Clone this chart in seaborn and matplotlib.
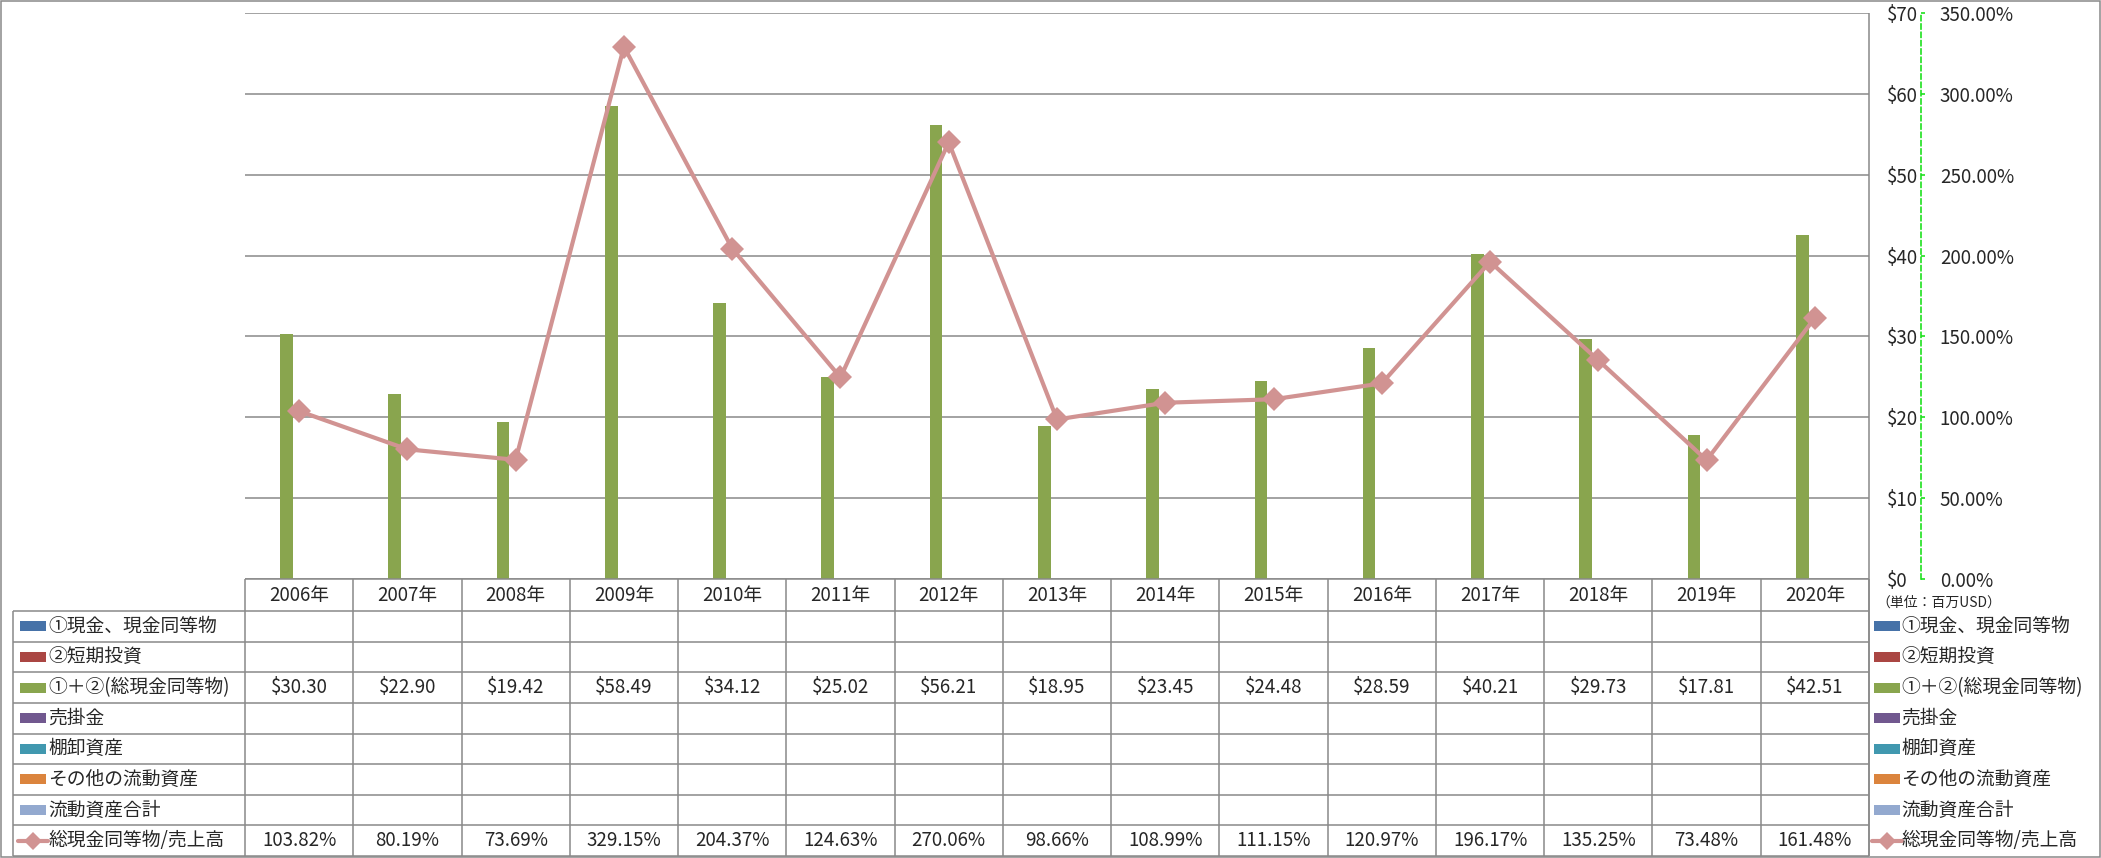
import numpy as np
import pandas as pd
import matplotlib
matplotlib.use("Agg")
import matplotlib.pyplot as plt
import seaborn as sns
from matplotlib.lines import Line2D
from matplotlib.patches import Rectangle

# ---------------- data ----------------
years = ["2006年", "2007年", "2008年", "2009年", "2010年", "2011年", "2012年", "2013年",
         "2014年", "2015年", "2016年", "2017年", "2018年", "2019年", "2020年"]
cash_total = [30.30, 22.90, 19.42, 58.49, 34.12, 25.02, 56.21, 18.95,
              23.45, 24.48, 28.59, 40.21, 29.73, 17.81, 42.51]
ratio_pct = [103.82, 80.19, 73.69, 329.15, 204.37, 124.63, 270.06, 98.66,
             108.99, 111.15, 120.97, 196.17, 135.25, 73.48, 161.48]
series_names = ["①現金、現金同等物", "②短期投資", "①＋②(総現金同等物)", "売掛金",
                "棚卸資産", "その他の流動資産", "流動資産合計"]
line_name = "総現金同等物/売上高"
dollar_ticks = [0, 10, 20, 30, 40, 50, 60, 70]
pct_ticks = [0, 50, 100, 150, 200, 250, 300, 350]
unit_label = "（単位：百万USD）"

# ---------------- style ----------------
bar_colors = ["#4672A8", "#AA4643", "#89A54E", "#71588F", "#4198AF", "#DB843D", "#93A9CF"]
line_color = "#D19392"
grid_color = "#898989"
axis_green = "#1EE01E"

sns.set_theme(style="white")
plt.rcParams["font.family"] = ["Noto Sans CJK JP", "DejaVu Sans"]
plt.rcParams["ytick.major.pad"] = 0
FS = 13.5

W, H = 2101, 858
PL, PR, PT, PB = 245, 1869, 13, 579
TB_LEFT = 13
HDR_BOT = 611
TB_BOT = 856
n_rows = len(series_names) + 1
ROW_H = (TB_BOT - HDR_BOT) / n_rows

fig = plt.figure(figsize=(W / 100, H / 100), dpi=100)
fig.patch.set_facecolor("white")
ax = fig.add_axes([PL / W, (H - PB) / H, (PR - PL) / W, (PB - PT) / H])

# long-form data for bars (only the combined cash series has values)
rows = []
for s in series_names:
    for y, v in zip(years, cash_total):
        rows.append({"year": y, "series": s,
                     "value": v if s == series_names[2] else np.nan})
df = pd.DataFrame(rows)

sns.barplot(data=df, x="year", y="value", hue="series", order=years,
            hue_order=series_names, palette=dict(zip(series_names, bar_colors)),
            width=0.82, dodge=True, saturation=1, errorbar=None, legend=False,
            linewidth=0, ax=ax)

# secondary axis: ratio line
ax2 = ax.twinx()
sns.lineplot(x=np.arange(len(years)), y=ratio_pct, ax=ax2, color=line_color,
             lw=3, marker="D", markersize=12, markeredgewidth=0, legend=False)

ax.set_ylim(0, 70)
ax.set_xlim(-0.5, len(years) - 0.5)
ax.set_yticks(dollar_ticks)
ax.set_yticklabels([f"${v}" for v in dollar_ticks])
ax.yaxis.set_ticks_position("right")
ax.spines["right"].set_position(("axes", (1887 - PL) / (PR - PL)))
ax.tick_params(axis="y", left=False, labelleft=False, right=False, labelright=True,
               length=0, pad=0, labelsize=FS)
ax.tick_params(axis="x", length=0, labelbottom=False)
ax.grid(axis="y", color=grid_color, lw=1.1)
ax.grid(axis="x", visible=False)
ax.set_axisbelow(True)
for sp in ax.spines.values():
    sp.set_visible(False)
ax.set_xlabel("")
ax.set_ylabel("")

ax2.set_ylim(0, 350)
ax2.set_xlim(-0.5, len(years) - 0.5)
ax2.set_yticks(pct_ticks)
ax2.set_yticklabels([f"{v:.2f}%" for v in pct_ticks])
for k, sp in ax2.spines.items():
    sp.set_visible(k == "right")
ax2.spines["right"].set_position(("axes", (1921 - PL) / (PR - PL)))
ax2.spines["right"].set_color(axis_green)
ax2.spines["right"].set_linestyle((0, (3, 2)))
ax2.spines["right"].set_linewidth(1.2)
ax2.tick_params(axis="y", color=axis_green, length=3, width=1.2, pad=10.5,
                labelsize=FS, direction="out")
ax2.tick_params(axis="x", length=0, labelbottom=False)
ax2.grid(False)
ax2.set_ylabel("")
ax2.set_xlabel("")

# ---------------- data table overlay ----------------
ov = fig.add_axes([0, 0, 1, 1])
ov.set_xlim(0, W)
ov.set_ylim(H, 0)
ov.axis("off")

n = len(years)
cw = (PR - PL) / n
lkw = dict(color=grid_color, lw=1.1, solid_capstyle="butt")
ov.plot([PL, PR], [PB, PB], **lkw)
for k in range(n_rows + 1):
    yy = HDR_BOT + k * ROW_H
    ov.plot([TB_LEFT, PR], [yy, yy], **lkw)
for i in range(n + 1):
    xx = PL + i * cw
    ov.plot([xx, xx], [PB, TB_BOT], **lkw)
ov.plot([TB_LEFT, TB_LEFT], [HDR_BOT, TB_BOT], **lkw)
ov.plot([PR, PR], [PT, TB_BOT], **lkw)
ov.add_patch(Rectangle((0.5, 0.5), W - 1.5, H - 1.5, fill=False, ec=grid_color, lw=1.1))

for i, y in enumerate(years):
    ov.text(PL + (i + 0.5) * cw, (PB + HDR_BOT) / 2, y, ha="center", va="center", fontsize=FS)

labels = series_names + [line_name]
for r, lab in enumerate(labels):
    yc = HDR_BOT + (r + 0.5) * ROW_H
    for x0, tx in [(20, 48), (1874, 1901)]:
        if r < len(series_names):
            ov.add_patch(Rectangle((x0, yc - 5), 26, 10, color=bar_colors[r], lw=0))
        else:
            ov.add_line(Line2D([x0 - 2, x0 + 28], [yc, yc], color=line_color, lw=3))
            ov.plot([x0 + 13], [yc], marker="D", ms=9, mew=0, color=line_color)
        ov.text(tx, yc, lab, ha="left", va="center", fontsize=FS)

for i, v in enumerate(cash_total):
    ov.text(PL + (i + 0.5) * cw, HDR_BOT + 2.5 * ROW_H, f"${v:.2f}",
            ha="center", va="center", fontsize=FS)
for i, v in enumerate(ratio_pct):
    ov.text(PL + (i + 0.5) * cw, HDR_BOT + 7.5 * ROW_H, f"{v:.2f}%",
            ha="center", va="center", fontsize=FS)

ov.text(1876, 603, unit_label, ha="left", va="center", fontsize=10)

fig.savefig("out.png", dpi=100, facecolor="white")
